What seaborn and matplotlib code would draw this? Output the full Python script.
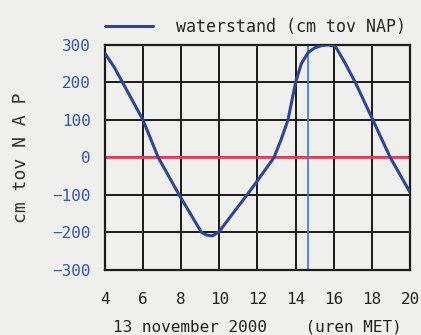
import numpy as np
import pandas as pd
import matplotlib
matplotlib.use("Agg")
import matplotlib.pyplot as plt
import seaborn as sns

# Water level, 13 november 2000 (hours MET vs cm relative to NAP)
hours = [4, 4.5, 4.93, 6, 6.8, 7.9, 9.07, 9.35, 9.65, 10, 11, 11.45, 12, 12.87,
         13.25, 13.6, 14, 14.3, 14.66, 15, 15.35, 15.74, 16.1, 16.6, 17.13,
         18.05, 18.96, 20]
level = [278, 240, 200, 100, 0, -100, -200, -207, -209, -197, -130, -100, -62, 0,
         49, 100, 200, 250, 280, 292, 298, 300, 295, 251, 200,
         100, 0, -93]

marker_hour = 14.66
x_ticks = [4, 6, 8, 10, 12, 14, 16, 18, 20]
y_ticks = [-300, -200, -100, 0, 100, 200, 300]

df = pd.DataFrame({"uur": hours, "waterstand": level})

bg = "#efefed"
sns.set_style("white")
plt.rcParams["font.family"] = ["DejaVu Sans Mono", "DejaVu Sans"]

fig = plt.figure(figsize=(4.21, 3.35), dpi=100, facecolor=bg)
ax = fig.add_axes([0.249, 0.194, 0.725, 0.672])
ax.set_facecolor(bg)

# grid
for x in x_ticks:
    ax.axvline(x, color="#1a1a1a", lw=1.4, zorder=1)
for y in y_ticks:
    ax.axhline(y, color="#1a1a1a", lw=1.4, zorder=1)

ax.axhline(0, color="#e8405a", lw=2, zorder=2)
ax.axvline(marker_hour, color="#4a7bd4", lw=1.3, zorder=2)

sns.lineplot(data=df, x="uur", y="waterstand", ax=ax, color="#2e4597", lw=2.2,
             label="waterstand (cm tov NAP)", zorder=3)

ax.set_xlim(4, 20)
ax.set_ylim(-300, 300)
ax.set_xticks(x_ticks)
ax.set_yticks(y_ticks)
ax.tick_params(axis="x", length=0, pad=16, labelsize=11.5, labelcolor="#222222")
ax.tick_params(axis="y", length=0, pad=10, labelsize=11.5, labelcolor="#3556b0")
for s in ax.spines.values():
    s.set_color("#1a1a1a")
    s.set_linewidth(1.6)

ax.set_xlabel("13 november 2000    (uren MET)", fontsize=11.5, color="#222222", labelpad=9)
ax.set_ylabel("cm tov N A P", fontsize=13, color="#333333", labelpad=16)

ax.legend(loc="lower left", bbox_to_anchor=(0, 1.04), frameon=False,
          borderaxespad=0, borderpad=0, handlelength=2.9, handletextpad=1.4,
          fontsize=12)

fig.savefig("out.png", dpi=100, facecolor=bg)
